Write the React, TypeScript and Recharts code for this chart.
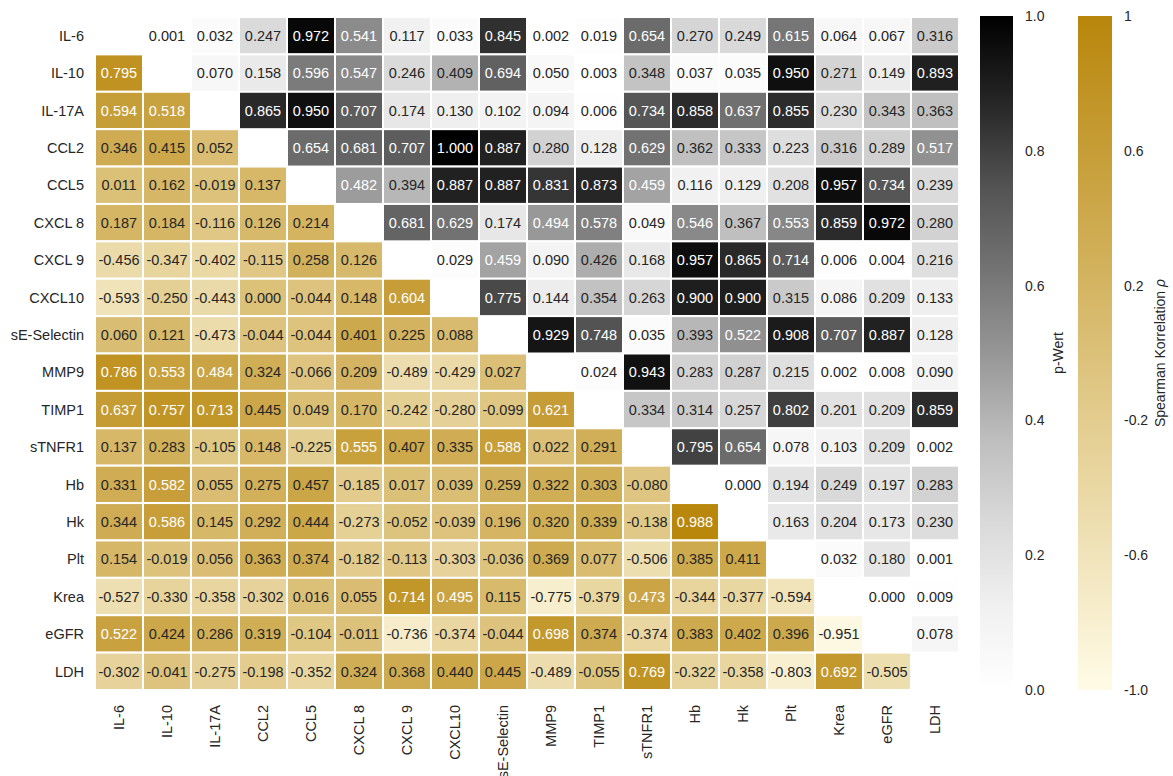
import { ScatterChart, Scatter, ComposedChart, XAxis, YAxis, ReferenceArea } from 'recharts';

const labels = [
  'IL-6', 'IL-10', 'IL-17A', 'CCL2', 'CCL5', 'CXCL 8', 'CXCL 9', 'CXCL10', 'sE-Selectin',
  'MMP9', 'TIMP1', 'sTNFR1', 'Hb', 'Hk', 'Plt', 'Krea', 'eGFR', 'LDH',
];

// p-values, upper triangle, row by row (columns to the right of the diagonal)
const pRows: number[][] = [
  [0.001, 0.032, 0.247, 0.972, 0.541, 0.117, 0.033, 0.845, 0.002, 0.019, 0.654, 0.270, 0.249, 0.615, 0.064, 0.067, 0.316],
  [0.070, 0.158, 0.596, 0.547, 0.246, 0.409, 0.694, 0.050, 0.003, 0.348, 0.037, 0.035, 0.950, 0.271, 0.149, 0.893],
  [0.865, 0.950, 0.707, 0.174, 0.130, 0.102, 0.094, 0.006, 0.734, 0.858, 0.637, 0.855, 0.230, 0.343, 0.363],
  [0.654, 0.681, 0.707, 1.000, 0.887, 0.280, 0.128, 0.629, 0.362, 0.333, 0.223, 0.316, 0.289, 0.517],
  [0.482, 0.394, 0.887, 0.887, 0.831, 0.873, 0.459, 0.116, 0.129, 0.208, 0.957, 0.734, 0.239],
  [0.681, 0.629, 0.174, 0.494, 0.578, 0.049, 0.546, 0.367, 0.553, 0.859, 0.972, 0.280],
  [0.029, 0.459, 0.090, 0.426, 0.168, 0.957, 0.865, 0.714, 0.006, 0.004, 0.216],
  [0.775, 0.144, 0.354, 0.263, 0.900, 0.900, 0.315, 0.086, 0.209, 0.133],
  [0.929, 0.748, 0.035, 0.393, 0.522, 0.908, 0.707, 0.887, 0.128],
  [0.024, 0.943, 0.283, 0.287, 0.215, 0.002, 0.008, 0.090],
  [0.334, 0.314, 0.257, 0.802, 0.201, 0.209, 0.859],
  [0.795, 0.654, 0.078, 0.103, 0.209, 0.002],
  [0.000, 0.194, 0.249, 0.197, 0.283],
  [0.163, 0.204, 0.173, 0.230],
  [0.032, 0.180, 0.001],
  [0.000, 0.009],
  [0.078],
];

// Spearman rho, lower triangle, starting with the IL-10 row
const rhoRows: number[][] = [
  [0.795],
  [0.594, 0.518],
  [0.346, 0.415, 0.052],
  [0.011, 0.162, -0.019, 0.137],
  [0.187, 0.184, -0.116, 0.126, 0.214],
  [-0.456, -0.347, -0.402, -0.115, 0.258, 0.126],
  [-0.593, -0.250, -0.443, 0.000, -0.044, 0.148, 0.604],
  [0.060, 0.121, -0.473, -0.044, -0.044, 0.401, 0.225, 0.088],
  [0.786, 0.553, 0.484, 0.324, -0.066, 0.209, -0.489, -0.429, 0.027],
  [0.637, 0.757, 0.713, 0.445, 0.049, 0.170, -0.242, -0.280, -0.099, 0.621],
  [0.137, 0.283, -0.105, 0.148, -0.225, 0.555, 0.407, 0.335, 0.588, 0.022, 0.291],
  [0.331, 0.582, 0.055, 0.275, 0.457, -0.185, 0.017, 0.039, 0.259, 0.322, 0.303, -0.080],
  [0.344, 0.586, 0.145, 0.292, 0.444, -0.273, -0.052, -0.039, 0.196, 0.320, 0.339, -0.138, 0.988],
  [0.154, -0.019, 0.056, 0.363, 0.374, -0.182, -0.113, -0.303, -0.036, 0.369, 0.077, -0.506, 0.385, 0.411],
  [-0.527, -0.330, -0.358, -0.302, 0.016, 0.055, 0.714, 0.495, 0.115, -0.775, -0.379, 0.473, -0.344, -0.377, -0.594],
  [0.522, 0.424, 0.286, 0.319, -0.104, -0.011, -0.736, -0.374, -0.044, 0.698, 0.374, -0.374, 0.383, 0.402, 0.396, -0.951],
  [-0.302, -0.041, -0.275, -0.198, -0.352, 0.324, 0.368, 0.440, 0.445, -0.489, -0.055, 0.769, -0.322, -0.358, -0.803, 0.692, -0.505],
];

const pTicks = [0, 0.2, 0.4, 0.6, 0.8, 1.0];
const rhoTicks = [-1, -0.6, -0.2, 0.2, 0.6, 1];

const greys = ['#ffffff', '#f0f0f0', '#d9d9d9', '#bdbdbd', '#969696', '#737373', '#525252', '#252525', '#000000'];
const goldLow = [255, 251, 230];
const goldHigh = [184, 134, 11];
const TEXT = '#262626';

const N = labels.length;
const PLOT_LEFT = 95;
const PLOT_TOP = 17;
const PLOT_W = 864;
const PLOT_H = 673;
const CW = PLOT_W / N;
const CH = PLOT_H / N;

const hex = (c: number[]) =>
  '#' + c.map((v) => Math.round(v).toString(16).padStart(2, '0')).join('');

function greyColor(p: number) {
  const t = Math.max(0, Math.min(1, p)) * (greys.length - 1);
  const i = Math.min(Math.floor(t), greys.length - 2);
  const f = t - i;
  const a = parseInt(greys[i].slice(1, 3), 16);
  const b = parseInt(greys[i + 1].slice(1, 3), 16);
  const g = a + (b - a) * f;
  return hex([g, g, g]);
}

function goldColor(r: number) {
  const t = (r + 1) / 2;
  return hex(goldLow.map((v, k) => v + (goldHigh[k] - v) * t));
}

const cells: { x: number; y: number; v: number; kind: string }[] = [];
labels.forEach((_, i) => {
  labels.forEach((__, j) => {
    if (j > i) cells.push({ x: j + 0.5, y: i + 0.5, v: pRows[i][j - i - 1], kind: 'p' });
    else if (j < i) cells.push({ x: j + 0.5, y: i + 0.5, v: rhoRows[i - 1][j], kind: 'r' });
  });
});

const axisTicks = labels.map((_, i) => i + 0.5);

const CellShape = (props: any) => {
  const { cx, cy, payload } = props;
  const isP = payload.kind === 'p';
  const fill = isP ? greyColor(payload.v) : goldColor(payload.v);
  const light = isP ? payload.v > 0.45 : payload.v > 0.465;
  return (
    <g>
      <rect x={cx - CW / 2} y={cy - CH / 2} width={CW} height={CH} fill={fill} stroke="#fff" strokeWidth={2} />
      <text x={cx} y={cy} dy="0.36em" textAnchor="middle" fontSize={14.5} fill={light ? '#fff' : TEXT}>
        {payload.v.toFixed(3)}
      </text>
    </g>
  );
};

const XTick = (props: any) => {
  const { x, y, payload } = props;
  return (
    <text transform={`translate(${x},${y}) rotate(-90)`} textAnchor="end" dy="0.36em" fontSize={14.5} fill={TEXT}>
      {labels[Math.floor(payload.value)]}
    </text>
  );
};

const YTick = (props: any) => {
  const { x, y, payload } = props;
  return (
    <text x={x} y={y} dy="0.36em" textAnchor="end" fontSize={14.5} fill={TEXT}>
      {labels[Math.floor(payload.value)]}
    </text>
  );
};

interface ColorBarProps {
  left: number;
  barW: number;
  id: string;
  stops: { off: number; color: string }[];
  domain: [number, number];
  ticks: number[];
  fmt: (v: number) => string;
  labelDx: number;
  label: React.ReactNode;
}

function ColorBar({ left, barW, id, stops, domain, ticks, fmt, labelDx, label }: ColorBarProps) {
  const data = [
    { x: 0, y: domain[0] },
    { x: 1, y: domain[1] },
  ];
  return (
    <div style={{ position: 'absolute', left, top: 0 }}>
      <ComposedChart width={barW + 110} height={776} data={data} margin={{ top: 16, right: 0, bottom: 86, left: 0 }}>
        <defs>
          <linearGradient id={id} x1="0" y1="0" x2="0" y2="1">
            {stops.map((s) => (
              <stop key={s.off} offset={s.off} stopColor={s.color} />
            ))}
          </linearGradient>
        </defs>
        <XAxis type="number" dataKey="x" domain={[0, 1]} hide />
        <YAxis
          type="number"
          dataKey="y"
          orientation="right"
          domain={domain}
          ticks={ticks}
          tickFormatter={fmt}
          width={110}
          axisLine={false}
          tickLine={false}
          tickSize={0}
          tickMargin={12}
          tick={{ fontSize: 14, fill: TEXT, textAnchor: 'start' }}
          label={{
            content: (p: any) => {
              const vb = p.viewBox;
              const cx = vb.x + labelDx;
              const cy = vb.y + vb.height / 2;
              return (
                <text transform={`translate(${cx},${cy}) rotate(-90)`} textAnchor="middle" dy="0.36em" fontSize={14} fill={TEXT}>
                  {label}
                </text>
              );
            },
          }}
        />
        <ReferenceArea x1={0} x2={1} y1={domain[0]} y2={domain[1]} fill={`url(#${id})`} fillOpacity={1} stroke="none" ifOverflow="visible" />
      </ComposedChart>
    </div>
  );
}

const greyStops = greys.map((c, i) => ({ off: 1 - i / (greys.length - 1), color: c })).reverse();
const goldStops = [
  { off: 0, color: hex(goldHigh) },
  { off: 1, color: hex(goldLow) },
];

export default function App() {
  return (
    <div
      style={{
        position: 'absolute',
        left: 0,
        top: 0,
        width: 1173,
        height: 776,
        background: '#fff',
        fontFamily: '"Liberation Sans", Arial, Helvetica, sans-serif',
      }}
    >
      <div style={{ position: 'absolute', left: 0, top: 0 }}>
        <ScatterChart width={PLOT_LEFT + PLOT_W + 1} height={776} margin={{ top: PLOT_TOP, right: 1, bottom: 0, left: 0 }}>
          <XAxis
            type="number"
            dataKey="x"
            domain={[0, N]}
            ticks={axisTicks}
            interval={0}
            height={776 - PLOT_TOP - PLOT_H}
            axisLine={false}
            tickLine={false}
            tickSize={0}
            tickMargin={15}
            tick={<XTick />}
          />
          <YAxis
            type="number"
            dataKey="y"
            domain={[0, N]}
            reversed
            ticks={axisTicks}
            interval={0}
            width={PLOT_LEFT}
            axisLine={false}
            tickLine={false}
            tickSize={0}
            tickMargin={11}
            tick={<YTick />}
          />
          <Scatter data={cells} shape={<CellShape />} isAnimationActive={false} />
        </ScatterChart>
      </div>
      <ColorBar
        left={980}
        barW={33}
        id="gradP"
        stops={greyStops}
        domain={[0, 1]}
        ticks={pTicks}
        fmt={(v) => v.toFixed(1)}
        labelDx={45}
        label="p-Wert"
      />
      <ColorBar
        left={1078}
        barW={34}
        id="gradRho"
        stops={goldStops}
        domain={[-1, 1]}
        ticks={rhoTicks}
        fmt={(v) => (v === 1 ? '1' : v.toFixed(1))}
        labelDx={48}
        label={
          <>
            Spearman Korrelation <tspan fontStyle="italic">ρ</tspan>
          </>
        }
      />
    </div>
  );
}
